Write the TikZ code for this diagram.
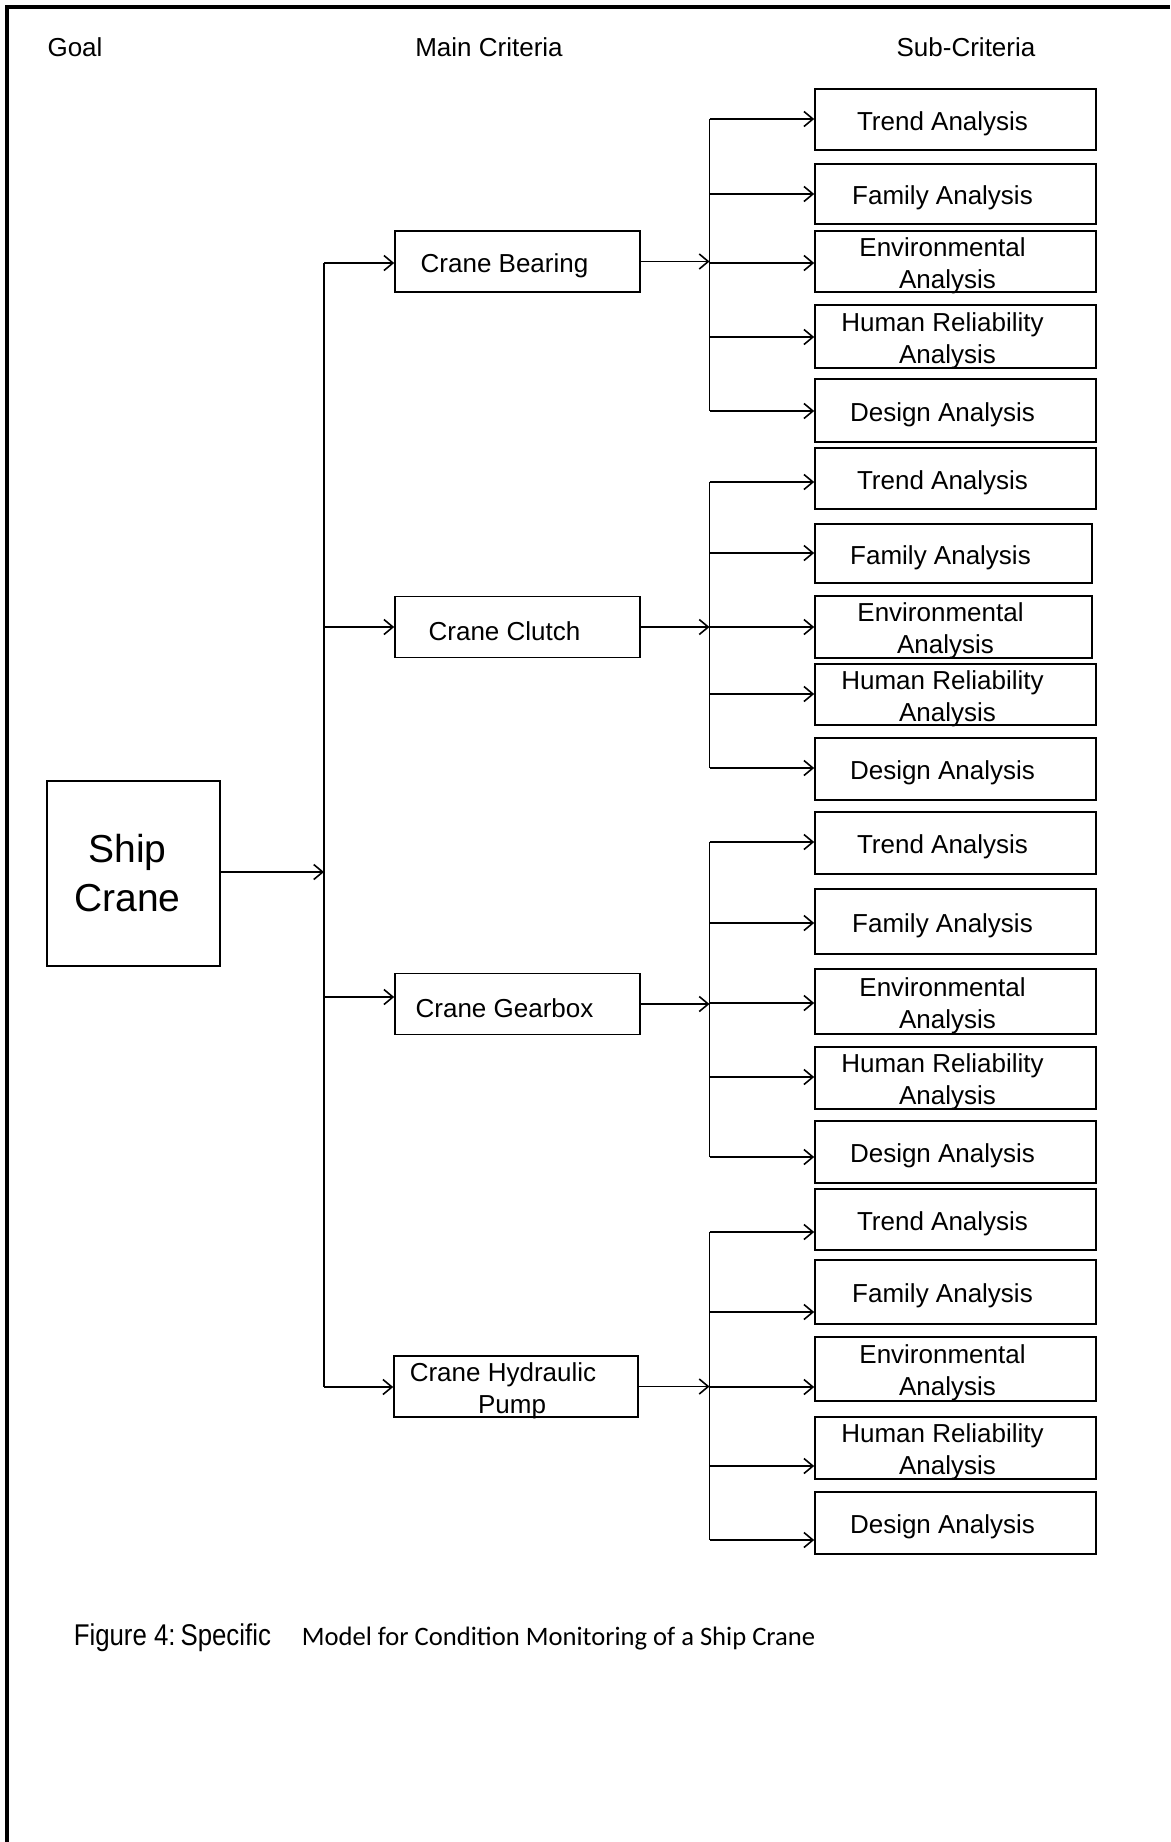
\documentclass[tikz,border=0pt]{standalone}
\usepackage{fontspec}
\setmainfont{Liberation Sans}
\newfontfamily\calibrifont{Carlito}
\newfontfamily\narrowfont[FakeStretch=0.86]{Liberation Sans}
\usetikzlibrary{arrows.meta}

\newcommand{\lastline}[1]{\hspace*{10pt}#1}

\begin{document}
\begin{tikzpicture}
	[x=1pt, y=-1pt,
	line width=1.6pt,
	box/.style={draw, inner sep=0pt},
	shipbox/.style={box, minimum width=173pt, minimum height=185pt},
	shiptext/.style={xshift=-6pt, align=center, inner sep=0pt,
		font=\fontsize{39}{49}\selectfont},
	mainbox/.style={box, minimum width=245pt, minimum height=61pt},
	subbox/.style={box, minimum width=281pt, minimum height=61pt},
	boxtext/.style={xshift=-13pt, yshift=-4pt, align=center, inner sep=0pt,
		font=\fontsize{26}{32}\selectfont},
	heading/.style={anchor=base, inner sep=0pt,
		font=\fontsize{26}{32}\selectfont},
	feed/.style={-{Straight Barb[length=9pt,width=15pt]}}]

\useasboundingbox (0,0) rectangle (1170,1842);

% Page frame
\draw[line width=4pt] (7,1842) -- (7,7) -- (1170,7);

% Column headings
\node[heading] (goal) at (75,56) {Goal};
\node[heading] (maincrit) at (489,56) {Main Criteria};
\node[heading] (subcrit) at (966,56) {Sub-Criteria};

% Goal
\node[shipbox, label={[shiptext]center:Ship\\Crane}] (ship) at (133.5,873.5) {};

% Main criteria
\node[mainbox, label={[boxtext]center:Crane Bearing}] (m1) at (517.5,261.5) {};
\node[mainbox, label={[boxtext]center:Crane Clutch}] (m2) at (517.5,627) {};
\node[mainbox, label={[boxtext]center:Crane Gearbox}] (m3) at (517.5,1004) {};
\node[mainbox, minimum width=244pt,
	label={[boxtext]center:Crane Hydraulic\\\hspace*{18pt}Pump}] (m4) at (516,1386.5) {};

% Sub-criteria of the bearing
\node[subbox, label={[boxtext]center:Trend Analysis}] (s11) at (955.5,119.5) {};
\node[subbox, minimum height=60pt, label={[boxtext]center:Family Analysis}] (s12) at (955.5,194) {};
\node[subbox, label={[boxtext]center:Environmental\\\lastline{Analysis}}] (s13) at (955.5,261.5) {};
\node[subbox, minimum height=63pt, label={[boxtext]center:Human Reliability\\\lastline{Analysis}}] (s14) at (955.5,336.5) {};
\node[subbox, minimum height=63pt, label={[boxtext]center:Design Analysis}] (s15) at (955.5,410.5) {};

% Sub-criteria of the clutch
\node[subbox, label={[boxtext]center:Trend Analysis}] (s21) at (955.5,478.5) {};
\node[subbox, minimum width=277pt, minimum height=59pt, label={[boxtext]center:Family Analysis}] (s22) at (953.5,553.5) {};
\node[subbox, minimum width=277pt, minimum height=62pt, label={[boxtext]center:Environmental\\\lastline{Analysis}}] (s23) at (953.5,627) {};
\node[subbox, label={[boxtext]center:Human Reliability\\\lastline{Analysis}}] (s24) at (955.5,694.5) {};
\node[subbox, minimum height=62pt, label={[boxtext]center:Design Analysis}] (s25) at (955.5,769) {};

% Sub-criteria of the gearbox
\node[subbox, minimum height=62pt, label={[boxtext]center:Trend Analysis}] (s31) at (955.5,843) {};
\node[subbox, minimum height=65pt, label={[boxtext]center:Family Analysis}] (s32) at (955.5,921.5) {};
\node[subbox, minimum height=65pt, label={[boxtext]center:Environmental\\\lastline{Analysis}}] (s33) at (955.5,1001.5) {};
\node[subbox, minimum height=62pt, label={[boxtext]center:Human Reliability\\\lastline{Analysis}}] (s34) at (955.5,1078) {};
\node[subbox, minimum height=62pt, label={[boxtext]center:Design Analysis}] (s35) at (955.5,1152) {};

% Sub-criteria of the hydraulic pump
\node[subbox, label={[boxtext]center:Trend Analysis}] (s41) at (955.5,1219.5) {};
\node[subbox, minimum height=64pt, label={[boxtext]center:Family Analysis}] (s42) at (955.5,1292) {};
\node[subbox, minimum height=64pt, label={[boxtext]center:Environmental\\\lastline{Analysis}}] (s43) at (955.5,1369) {};
\node[subbox, minimum height=62pt, label={[boxtext]center:Human Reliability\\\lastline{Analysis}}] (s44) at (955.5,1448) {};
\node[subbox, minimum height=62pt, label={[boxtext]center:Design Analysis}] (s45) at (955.5,1523) {};

% Junction points
\coordinate (t0) at (324,872);
\coordinate (t1) at (324,263);
\coordinate (t2) at (324,627);
\coordinate (t3) at (324,997);
\coordinate (t4) at (324,1387);

\coordinate (j11) at (709.5,119);
\coordinate (j12) at (709.5,194);
\coordinate (j13) at (709.5,263);
\coordinate (j14) at (709.5,337);
\coordinate (j15) at (709.5,411);
\coordinate (j21) at (709.5,482);
\coordinate (j22) at (709.5,553);
\coordinate (j23) at (709.5,627);
\coordinate (j24) at (709.5,694);
\coordinate (j25) at (709.5,768);
\coordinate (j31) at (709.5,842);
\coordinate (j32) at (709.5,923);
\coordinate (j33) at (709.5,1003);
\coordinate (j34) at (709.5,1077);
\coordinate (j35) at (709.5,1157);
\coordinate (j41) at (709.5,1232);
\coordinate (j42) at (709.5,1312);
\coordinate (j43) at (709.5,1387);
\coordinate (j44) at (709.5,1466);
\coordinate (j45) at (709.5,1540);

% Goal to main criteria
\draw[feed] (t0 -| ship.east) -- (t0);
\draw (t1) -- (t4);
\draw[feed] (t1) -- (t1 -| m1.west);
\draw[feed] (t2) -- (t2 -| m2.west);
\draw[feed] (t3) -- (t3 -| m3.west);
\draw[feed] (t4) -- (t4 -| m4.west);

% Main criteria to sub-criteria
\draw[feed] (m1.east) -- (m1.east -| j13);
\draw[feed] (m2.east) -- (m2.east -| j23);
\draw[feed] (m3.east) -- (m3.east -| j33);
\draw[feed] (m4.east) -- (m4.east -| j43);

\draw (j11) -- (j15);
\draw (j21) -- (j25);
\draw (j31) -- (j35);
\draw (j41) -- (j45);

\draw[feed] (j11) -- (j11 -| s11.west);
\draw[feed] (j12) -- (j12 -| s12.west);
\draw[feed] (j13) -- (j13 -| s13.west);
\draw[feed] (j14) -- (j14 -| s14.west);
\draw[feed] (j15) -- (j15 -| s15.west);

\draw[feed] (j21) -- (j21 -| s21.west);
\draw[feed] (j22) -- (j22 -| s22.west);
\draw[feed] (j23) -- (j23 -| s23.west);
\draw[feed] (j24) -- (j24 -| s24.west);
\draw[feed] (j25) -- (j25 -| s25.west);

\draw[feed] (j31) -- (j31 -| s31.west);
\draw[feed] (j32) -- (j32 -| s32.west);
\draw[feed] (j33) -- (j33 -| s33.west);
\draw[feed] (j34) -- (j34 -| s34.west);
\draw[feed] (j35) -- (j35 -| s35.west);

\draw[feed] (j41) -- (j41 -| s41.west);
\draw[feed] (j42) -- (j42 -| s42.west);
\draw[feed] (j43) -- (j43 -| s43.west);
\draw[feed] (j44) -- (j44 -| s44.west);
\draw[feed] (j45) -- (j45 -| s45.west);

% Caption
\node[anchor=base west, inner sep=0pt, font=\narrowfont\fontsize{30}{36}\selectfont]
	(figlabel) at (73,1645) {Figure 4:\,Specific};
\node[anchor=base west, inner sep=0pt, font=\calibrifont\fontsize{26.6}{32}\selectfont]
	(figtitle) at (301,1645) {Model for Condition Monitoring of a Ship Crane};

\end{tikzpicture}
\end{document}
